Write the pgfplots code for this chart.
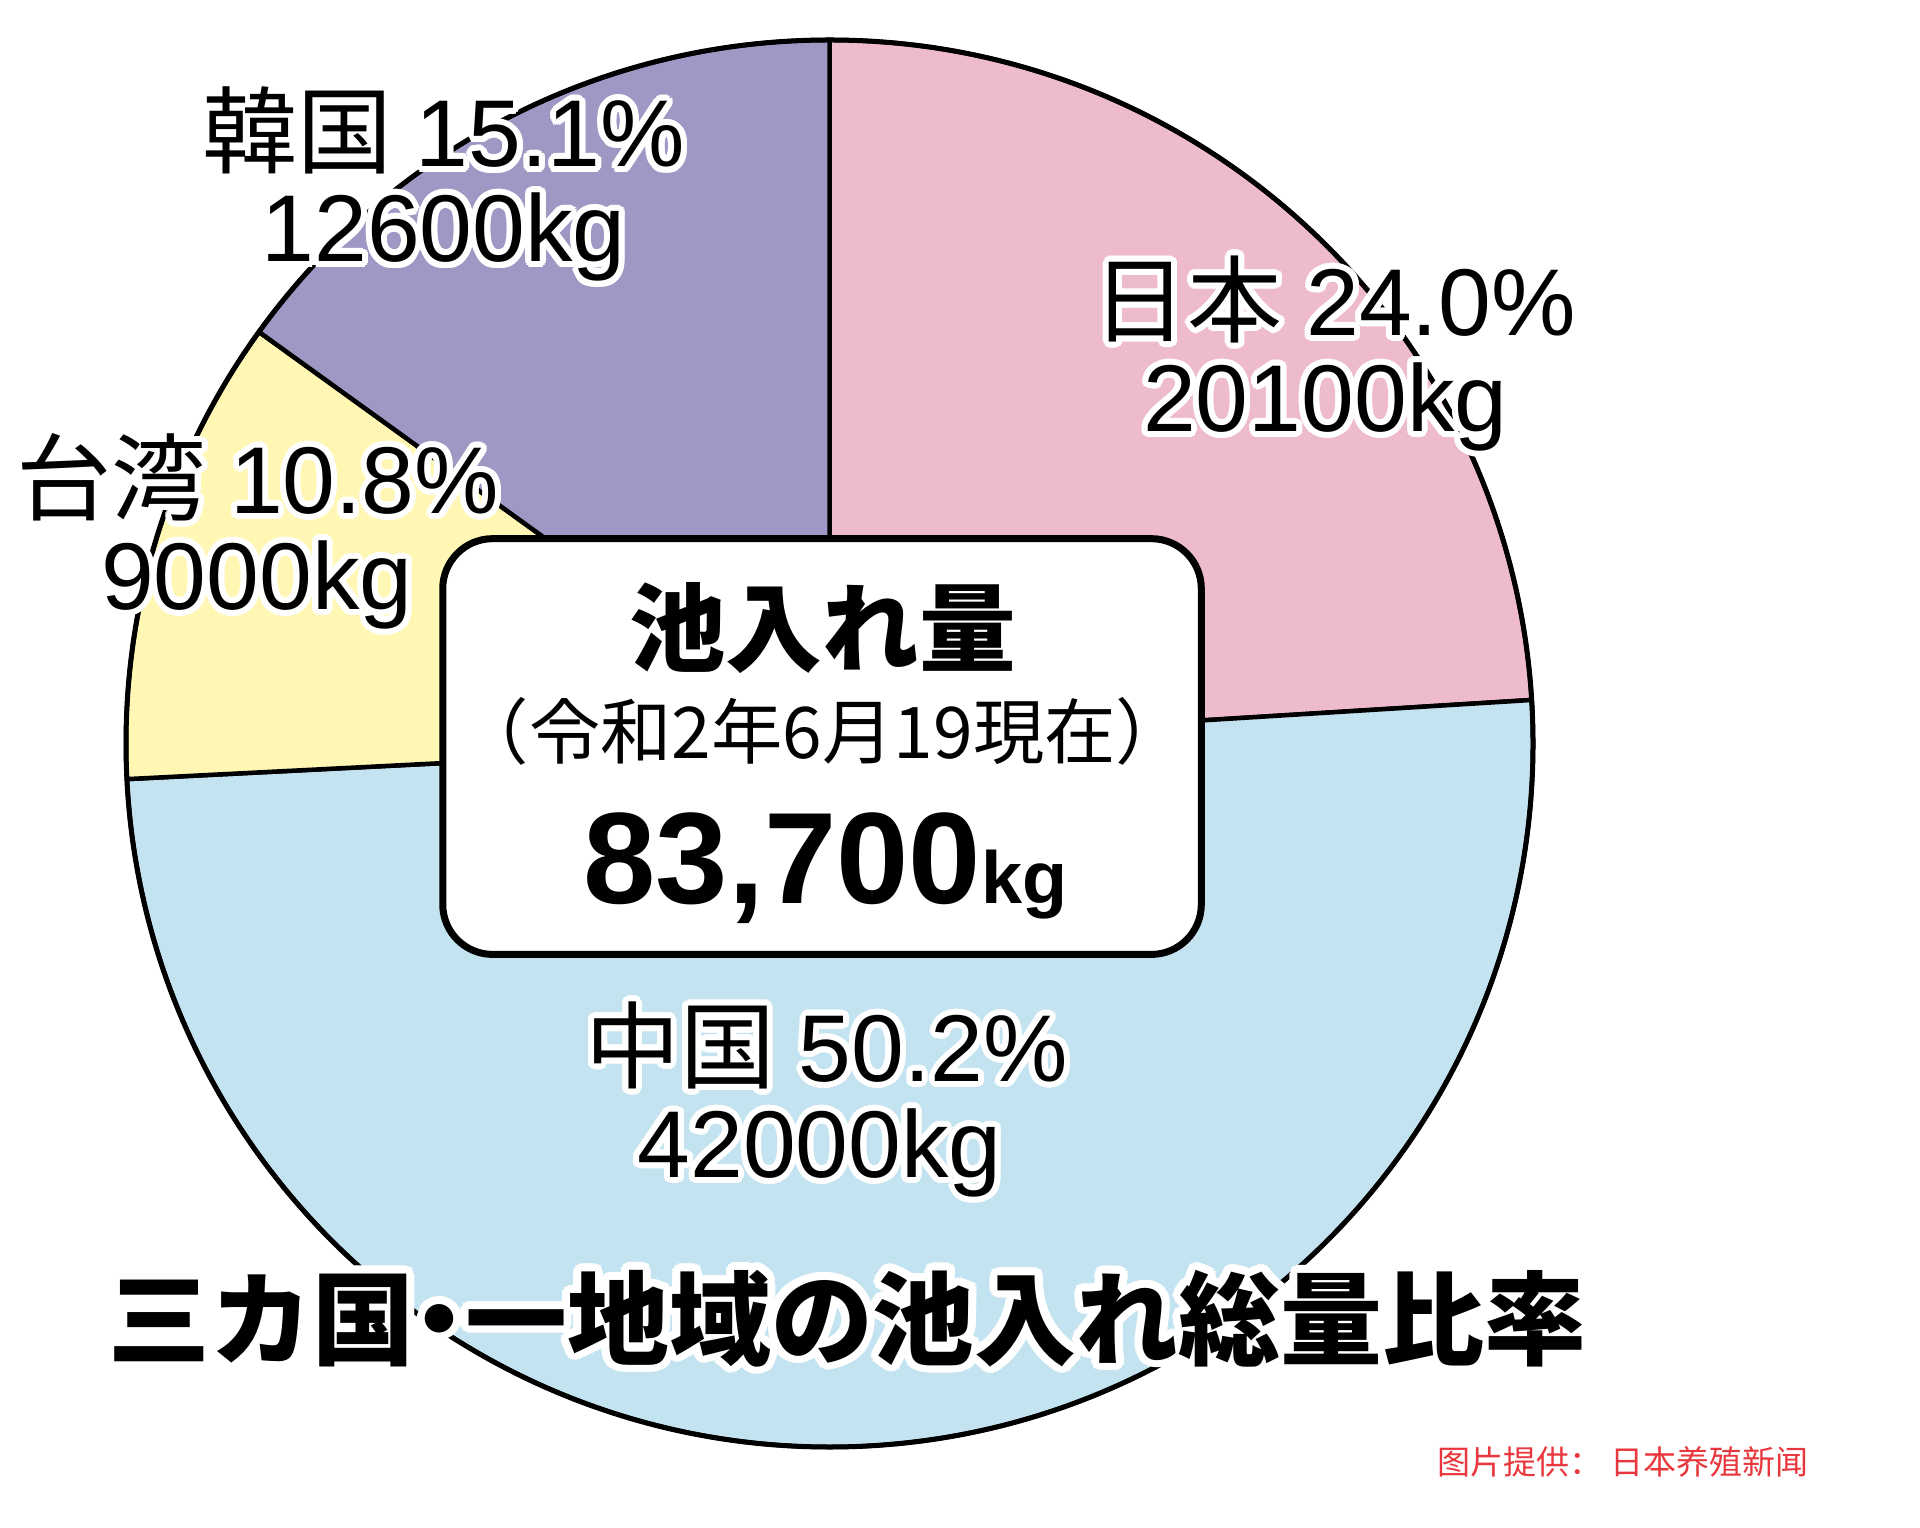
\documentclass[border=0pt]{standalone}
\usepackage{pgfplots}
\pgfplotsset{compat=1.18}
\usepackage{pgfplotstable}
\usepackage{fontspec}
\setmainfont{Liberation Sans}
\newfontfamily\jp{Noto Sans CJK JP}
\newfontfamily\jpblack{Noto Sans CJK JP Black}
\newfontfamily\cnfont{Noto Sans CJK SC}
\definecolor{cjpn}{HTML}{EEBBCC}
\definecolor{cchn}{HTML}{C2E3EF}
\definecolor{ctwn}{HTML}{FFF7B3}
\definecolor{ckor}{HTML}{9D98C4}
\definecolor{cred}{HTML}{E8383D}

\pgfplotstableread{
country kg
Japan 20100
China 42000
Taiwan 9000
Korea 12600
}\pondtable

% halo text: #1 node options, #2 halo radius, #3 x, #4 y, #5 text
\newcommand\halo[5]{%
  \foreach \ang in {0,20,...,340}{%
    \node[#1, text=white, shift={(\ang:#2)}] at (#3,#4) {#5};}%
  \node[#1] at (#3,#4) {#5};%
}

\begin{document}
\begin{tikzpicture}
\pgfplotstablegetelem{0}{kg}\of\pondtable \edef\vA{\pgfplotsretval}
\pgfplotstablegetelem{1}{kg}\of\pondtable \edef\vB{\pgfplotsretval}
\pgfplotstablegetelem{2}{kg}\of\pondtable \edef\vC{\pgfplotsretval}
\pgfplotstablegetelem{3}{kg}\of\pondtable \edef\vD{\pgfplotsretval}
\edef\total{\fpeval{\vA+\vB+\vC+\vD}}
\edef\aA{\fpeval{round(90-360*\vA/\total,4)}}
\edef\aB{\fpeval{round(\aA-360*\vB/\total,4)}}
\edef\aC{\fpeval{round(\aB-360*\vC/\total,4)}}
\edef\aD{\fpeval{round(\aC-360*\vD/\total,4)}}
\useasboundingbox (0,0) rectangle (19.2cm,15.28cm);
\begin{axis}[
  at={(0,0)}, anchor=south west,
  scale only axis, width=19.2cm, height=15.28cm,
  xmin=0, xmax=1920, ymin=0, ymax=1528, y dir=reverse,
  hide axis, clip=false]
\filldraw[fill=cjpn, draw=black, line width=0.045cm, line join=round]
  (axis cs:829.5,743.5) -- ++(90:7.035cm) arc[start angle=90, end angle=\aA, radius=7.035cm] -- cycle;
\filldraw[fill=cchn, draw=black, line width=0.045cm, line join=round]
  (axis cs:829.5,743.5) -- ++(\aA:7.035cm) arc[start angle=\aA, end angle=\aB, radius=7.035cm] -- cycle;
\filldraw[fill=ctwn, draw=black, line width=0.045cm, line join=round]
  (axis cs:829.5,743.5) -- ++(\aB:7.035cm) arc[start angle=\aB, end angle=\aC, radius=7.035cm] -- cycle;
\filldraw[fill=ckor, draw=black, line width=0.045cm, line join=round]
  (axis cs:829.5,743.5) -- ++(\aC:7.035cm) arc[start angle=\aC, end angle=\aD, radius=7.035cm] -- cycle;
\draw[line width=0.05cm] (axis cs:829.5,743.5) circle[radius=7.035cm];
\end{axis}
\begin{scope}[x=0.01cm, y=-0.01cm, yshift=15.28cm]
  % slice labels
  \halo{anchor=base, inner sep=0pt}{0.06cm}{444}{167}{\fontsize{27}{32}\selectfont{\jp 韓国}\hspace{0.25em}15.1\%}
  \halo{anchor=base, inner sep=0pt}{0.06cm}{444}{262}{\fontsize{27}{32}\selectfont 12600kg}
  \halo{anchor=base, inner sep=0pt}{0.06cm}{1335}{336}{\fontsize{27}{32}\selectfont{\jp 日本}\hspace{0.25em}24.0\%}
  \halo{anchor=base, inner sep=0pt}{0.06cm}{1326}{432}{\fontsize{27}{32}\selectfont 20100kg}
  \halo{anchor=base, inner sep=0pt}{0.06cm}{258}{514}{\fontsize{27}{32}\selectfont{\jp 台湾}\hspace{0.25em}10.8\%}
  \halo{anchor=base, inner sep=0pt}{0.06cm}{257}{610}{\fontsize{27}{32}\selectfont 9000kg}
  % centre box
  \draw[line width=0.07cm, fill=white, rounded corners=0.5cm] (443,539) rectangle (1202,955);
  \node[inner sep=0pt] at (823,628) {\jp\bfseries\fontsize{27.5}{32}\selectfont 池入れ量};
  \node[inner sep=0pt] at (823,732) {\jp\fontsize{20.3}{24}\selectfont （令和2年6月19現在）};
  \node[anchor=base, inner sep=0pt] at (826,904) {\bfseries\fontsize{37}{40}\selectfont 83,700{\fontsize{21}{24}\selectfont kg}};
  % china label
  \halo{anchor=base, inner sep=0pt}{0.06cm}{827}{1082}{\fontsize{27}{32}\selectfont{\jp 中国}\hspace{0.25em}50.2\%}
  \halo{anchor=base, inner sep=0pt}{0.06cm}{820}{1178}{\fontsize{27}{32}\selectfont 42000kg}
  % title
  \halo{inner sep=0pt}{0.08cm}{848}{1319}{\jpblack\fontsize{29}{32}\selectfont 三カ国\makebox[0.5em]{・}一地域の池入れ総量比率}
  % source
  \node[inner sep=0pt, text=cred] at (1624,1463) {\cnfont\fontsize{9.4}{11}\selectfont 图片提供：\ 日本养殖新闻};
\end{scope}
\end{tikzpicture}
\end{document}
